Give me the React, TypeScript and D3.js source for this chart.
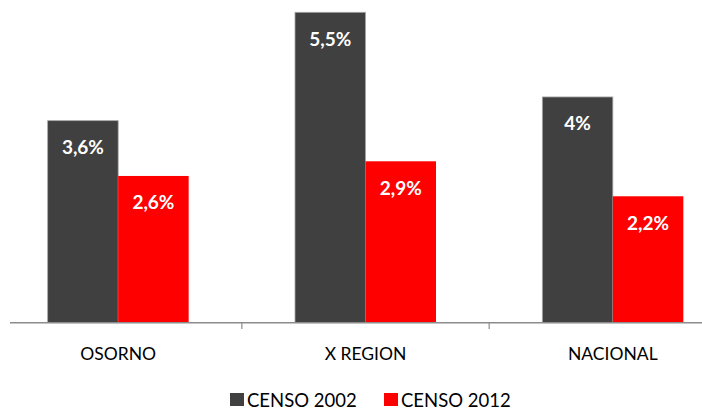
import React from "react";
import * as d3 from "d3";

const categories = ["OSORNO", "X REGION", "NACIONAL"];
const seriesNames = ["CENSO 2002", "CENSO 2012"];
const censo2002 = [3.58, 5.5, 4.0];
const censo2012 = [2.6, 2.86, 2.24];
const labels2002 = ["3,6%", "5,5%", "4%"];
const labels2012 = ["2,6%", "2,9%", "2,2%"];
const colors = ["#404040", "#FF0000"];

const W = 702;
const H = 411;
const baseY = 322.7;
const font = "Lato, 'Open Sans', sans-serif";

export default function App() {
  const x0 = d3.scaleBand<string>().domain(categories).range([-5.5, 736.5]).paddingInner(0).paddingOuter(0);
  const x1 = d3.scaleBand<string>().domain(seriesNames).range([0, 141]).padding(0);
  const y = d3.scaleLinear().domain([0, 5.5]).range([baseY, 12.3]);
  const series = [censo2002, censo2012];
  const lbls = [labels2002, labels2012];
  const bw = x0.bandwidth();

  return (
    <svg width={W} height={H} style={{ position: "absolute", left: 0, top: 0, background: "#fff" }}>
      {categories.map((c, i) => {
        const gx = (x0(c) as number) + (bw - 141) / 2;
        return (
          <g key={c}>
            {seriesNames.map((s, j) => {
              const v = series[j][i];
              const bx = gx + (x1(s) as number);
              const by = y(v);
              return (
                <g key={s}>
                  <rect x={bx} y={by} width={x1.bandwidth()} height={baseY - by} fill={colors[j]}
                    stroke={j === 0 ? "#a6a6a6" : "none"} strokeWidth={j === 0 ? 0.8 : 0} />
                  <text x={bx + x1.bandwidth() / 2} y={by + 26} textAnchor="middle" dominantBaseline="central"
                    fill="#fff" fontFamily={font} fontWeight="bold" fontSize={19}>{lbls[j][i]}</text>
                </g>
              );
            })}
            <text x={(x0(c) as number) + bw / 2} y={353} textAnchor="middle" dominantBaseline="central"
              fontFamily={font} fontSize={17.5} fill="#000">{c}</text>
          </g>
        );
      })}
      <line x1={10} x2={W} y1={baseY} y2={baseY} stroke="#8c8c8c" strokeWidth={1.5} />
      {categories.slice(1).map((c) => (
        <line key={c} x1={x0(c) as number} x2={x0(c) as number} y1={baseY} y2={329} stroke="#8c8c8c" strokeWidth={1.2} />
      ))}
      <g>
        {seriesNames.map((s, j) => {
          const lx = j === 0 ? 230 : 384;
          return (
            <g key={s}>
              <rect x={lx} y={393} width={14} height={13} fill={colors[j]} />
              <text x={lx + 17} y={400} dominantBaseline="central" fontFamily={font} fontSize={18.5} fill="#000">{s}</text>
            </g>
          );
        })}
      </g>
    </svg>
  );
}
